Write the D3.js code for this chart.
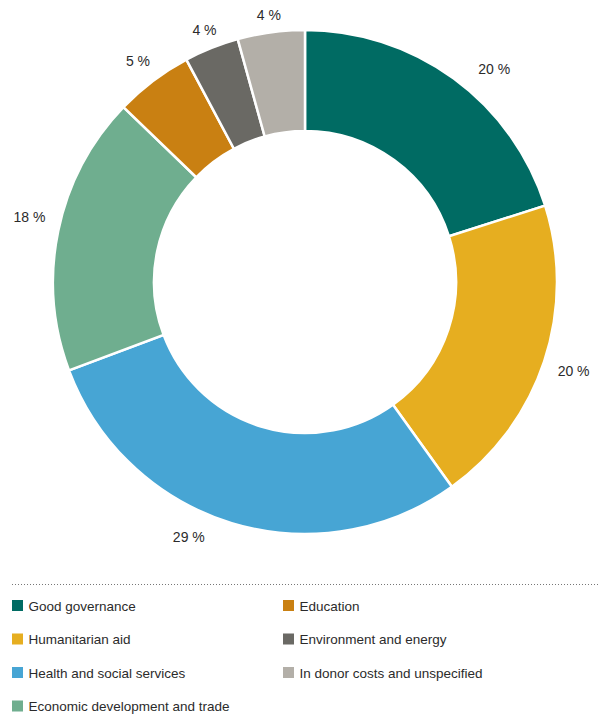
<!DOCTYPE html>
<html><head><meta charset="utf-8">
<script src="https://cdn.jsdelivr.net/npm/d3@7"></script>
<style>
html,body{margin:0;padding:0;background:#fff;}
svg text{font-family:"Liberation Sans",Arial,sans-serif;fill:#2b2b2b;}
</style></head>
<body><svg id="chart" width="610" height="715"></svg>
<script>
const categories = ["Good governance","Humanitarian aid","Health and social services","Economic development and trade","Education","Environment and energy","In donor costs and unspecified"];
const values = [20.1, 20.0, 29.2, 17.9, 5.0, 3.5, 4.3];
const valueLabels = ["20 %","20 %","29 %","18 %","5 %","4 %","4 %"];
const colors = ["#006b63","#e6ae20","#47a5d4","#6fae8f","#c98012","#6a6964","#b3afa8"];
const legendOrder = [0,1,2,3,4,5,6];

const svg = d3.select("#chart");
const cx = 305, cy = 282, rOuter = 252, rInner = 151;
const g = svg.append("g").attr("transform", `translate(${cx},${cy})`);

const pie = d3.pie().sort(null).value(d => d);
const arcs = pie(values);
const arc = d3.arc().innerRadius(rInner).outerRadius(rOuter);

g.selectAll("path").data(arcs).join("path")
  .attr("d", arc)
  .attr("fill", (d,i) => colors[i])
  .attr("stroke", "#fff").attr("stroke-width", 2.5).attr("stroke-linejoin","miter");

// label placement: along centroid angle, with a slight angular nudge for layout
const nudgeDeg = [5.4, 0, 7.6, 1.5, 0, 0, 0];
const labelR = [285, 283, 280, 283, 277, 271, 269];
g.selectAll("text.lbl").data(arcs).join("text").attr("class","lbl")
  .each(function(d,i){
    const a = (d.startAngle + d.endAngle)/2 + nudgeDeg[i]*Math.PI/180;
    d3.select(this)
      .attr("x", labelR[i]*Math.sin(a))
      .attr("y", -labelR[i]*Math.cos(a))
      .attr("text-anchor","middle").attr("dominant-baseline","central")
      .attr("font-size", 14)
      .text(valueLabels[i]);
  });

// legend
svg.append("line").attr("x1",12).attr("x2",598).attr("y1",584.5).attr("y2",584.5)
  .attr("stroke","#777").attr("stroke-width",1).attr("stroke-dasharray","1,2");

const colX = [12, 283], rowY0 = 605.5, rowStep = 33.5, perCol = 4;
const leg = svg.selectAll("g.leg").data(legendOrder).join("g").attr("class","leg")
  .attr("transform",(d,k)=>`translate(${colX[Math.floor(k/perCol)]},${rowY0 + (k%perCol)*rowStep})`);
leg.append("rect").attr("x",0).attr("y",-5.5).attr("width",11).attr("height",11)
  .attr("fill", d => colors[d]);
leg.append("text").attr("x",16.5).attr("y",0.5).attr("dominant-baseline","central")
  .attr("font-size",13.5).text(d => categories[d]);
</script></body></html>
